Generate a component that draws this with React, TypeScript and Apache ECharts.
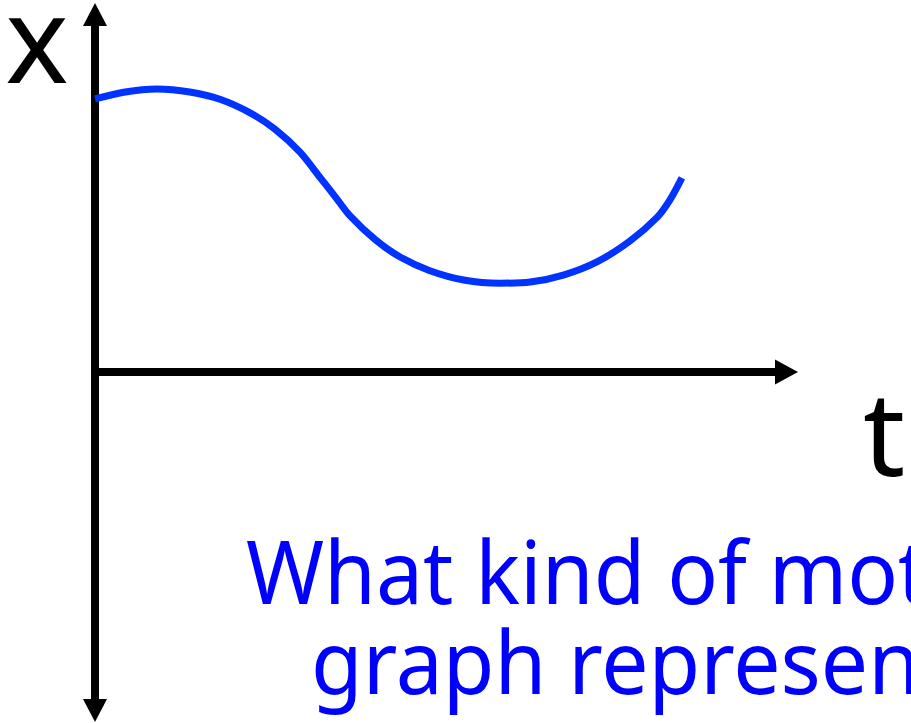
import React, { useEffect, useRef } from "react";
import * as echarts from "echarts";

// Curve: time (horizontal) and position x (vertical)
const tValues = [0, 0.43, 0.88, 1.35, 1.78, 2.21, 2.56, 2.92, 3.21, 3.42, 3.63, 3.99, 4.34, 4.77, 5.27, 5.77, 6.2, 6.67, 7.15, 7.62, 8.01, 8.19, 8.36];
const xValues = [7.44, 7.63, 7.71, 7.63, 7.43, 7.06, 6.62, 5.99, 5.29, 4.78, 4.26, 3.61, 3.14, 2.76, 2.5, 2.42, 2.45, 2.64, 3.0, 3.57, 4.22, 4.69, 5.29];

const axisLabels = { vertical: "x", horizontal: "t" };
const questionLines = ["What kind of motion does this", "graph represent?"];

export default function App() {
  const ref = useRef<HTMLDivElement>(null);
  useEffect(() => {
    if (!ref.current) return;
    const chart = echarts.init(ref.current, null, { renderer: "svg" });
    const data = tValues.map((t, i) => [t, xValues[i]]);
    chart.setOption({
      animation: false,
      backgroundColor: "#ffffff",
      grid: { left: 95, right: 124.5, top: 14.5, bottom: 12.5 },
      xAxis: {
        type: "value",
        min: 0,
        max: 9.85,
        axisLine: {
          show: true,
          onZero: true,
          symbol: ["none", "triangle"],
          symbolSize: [25, 23],
          lineStyle: { color: "#000", width: 8 },
        },
        axisTick: { show: false },
        axisLabel: { show: false },
        splitLine: { show: false },
      },
      yAxis: {
        type: "value",
        min: -9.223,
        max: 9.741,
        axisLine: {
          show: true,
          onZero: true,
          symbol: ["triangle", "triangle"],
          symbolSize: [24, 23],
          lineStyle: { color: "#000", width: 8 },
        },
        axisTick: { show: false },
        axisLabel: { show: false },
        splitLine: { show: false },
      },
      series: [
        {
          type: "line",
          data,
          smooth: 0.3,
          showSymbol: false,
          lineStyle: { color: "#0033ff", width: 7, cap: "butt" },
          z: 3,
        },
      ],
      graphic: [
        {
          type: "text",
          x: 37,
          y: 36,
          style: {
            text: axisLabels.vertical,
            fill: "#000",
            font: "120px 'Noto Sans'",
            lineHeight: 70,
            align: "center",
            verticalAlign: "middle",
          },
        },
        {
          type: "text",
          x: 863,
          y: 430,
          style: {
            text: axisLabels.horizontal,
            fill: "#000",
            font: "117px 'Noto Sans'",
            lineHeight: 90,
            align: "left",
            verticalAlign: "middle",
          },
        },
        {
          type: "text",
          x: 246,
          y: 570,
          scaleY: 1.05,
          style: {
            text: questionLines[0],
            fill: "#0000ff",
            font: "84px 'Noto Sans'",
            lineHeight: 84,
            align: "left",
            verticalAlign: "middle",
          },
        },
        {
          type: "text",
          x: 311,
          y: 660,
          scaleY: 1.05,
          style: {
            text: questionLines[1],
            fill: "#0000ff",
            font: "84px 'Noto Sans'",
            lineHeight: 84,
            align: "left",
            verticalAlign: "middle",
          },
        },
      ],
    });
    return () => chart.dispose();
  }, []);
  return (
    <div
      ref={ref}
      style={{ position: "fixed", left: 0, top: 0, width: 911, height: 723, overflow: "hidden", background: "#fff" }}
    />
  );
}
